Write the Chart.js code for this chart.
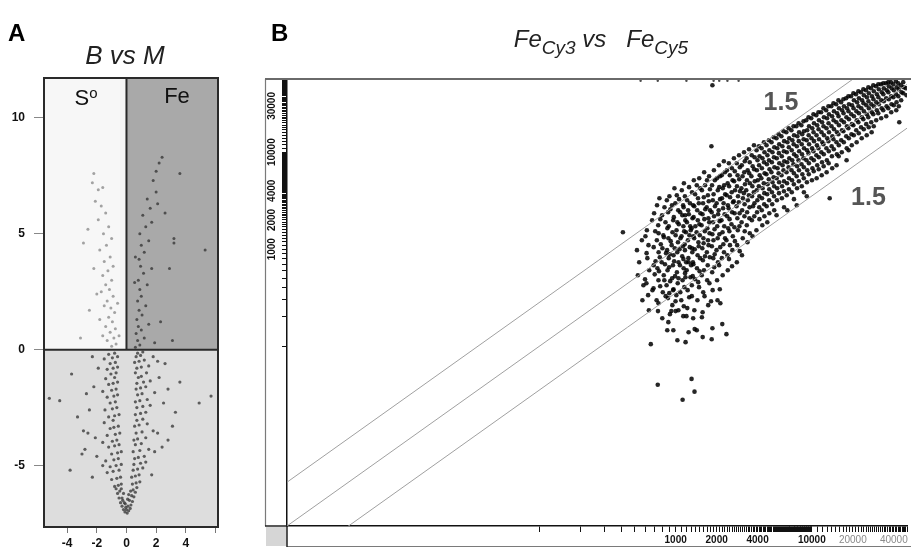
<!DOCTYPE html>
<html><head><meta charset="utf-8">
<script src="https://cdn.jsdelivr.net/npm/chart.js@4.4.0/dist/chart.umd.min.js"></script>
<style>
html,body{margin:0;padding:0;background:#fff;width:911px;height:552px;overflow:hidden;font-family:"Liberation Sans",Arial,sans-serif;color:#111}
canvas{position:absolute;top:0}
#ca{left:0}
#cb{left:255px}
.t{position:absolute;white-space:nowrap;line-height:1}
.pl{font-weight:bold;font-size:24px;color:#000}
.it{font-style:italic;color:#222;text-align:center}
.it sub{font-size:19px;vertical-align:-7px}
.q{font-size:22px;color:#111;text-align:center}
.q sup{font-size:15px;vertical-align:7px}
</style></head>
<body>
<canvas id="ca" width="255" height="552"></canvas>
<canvas id="cb" width="656" height="552"></canvas>
<div class="t pl" style="left:8px;top:21px">A</div>
<div class="t it" style="left:45px;top:42px;width:160px;font-size:26px">B vs M</div>
<div class="t q" style="left:56px;top:85px;width:60px">S<sup>o</sup></div>
<div class="t q" style="left:147px;top:85px;width:60px">Fe</div>
<div class="t pl" style="left:271px;top:21px">B</div>
<div class="t it" style="left:481px;top:27px;width:240px;font-size:24px">Fe<sub>Cy3</sub> vs&nbsp;&nbsp; Fe<sub>Cy5</sub></div>
<script>
// ---------------- Panel A : volcano plot (B vs M) ----------------
const volcanoXTicks = [-4, -2, 0, 2, 4, 6];
const volcanoXLabels = ["-4", "-2", "0", "2", "4", ""];
const volcanoYTicks = [-5, 0, 5, 10];
const volcanoYLabels = ["-5", "0", "5", "10"];

const volcanoLower = [
[-0.1,-7.0],[0.05,-7.05],[0.15,-6.95],[-0.2,-6.9],[0.25,-6.85],[-0.3,-6.75],[0.3,-6.7],[-0.05,-6.8],[0.1,-6.75],[-0.4,-6.6],[0.4,-6.55],[-0.15,-6.6],[0.2,-6.5],[-0.5,-6.4],[0.5,-6.35],[-0.3,-6.4],[0.35,-6.3],[-0.6,-6.2],[0.6,-6.15],[-0.45,-6.1],[0.45,-6.05],[-0.2,-6.2],[0.15,-6.25],[-0.7,-6.0],[0.7,-5.95],
[0.0,-6.9],[-0.08,-6.65],[0.08,-6.45],[-0.25,-6.5],[0.28,-6.1],[-0.35,-6.0],
[-0.8,-5.9],[-0.55,-5.85],[-0.35,-5.8],[0.4,-5.8],[0.65,-5.75],[0.9,-5.7],[-1.0,-5.6],[-0.65,-5.55],[-0.4,-5.5],[0.35,-5.5],[0.6,-5.45],[0.85,-5.4],[-1.3,-5.3],[-0.9,-5.25],[-0.5,-5.2],[0.45,-5.2],[0.75,-5.15],[1.1,-5.1],[-1.1,-5.05],[-0.7,-5.0],[-0.35,-4.95],[0.5,-4.95],[0.95,-4.9],[1.3,-4.85],[-3.8,-5.2],[-2.3,-5.5],[-1.6,-5.0],[1.7,-5.4],
[-1.4,-4.8],[-0.85,-4.75],[-0.55,-4.7],[0.55,-4.7],[0.8,-4.65],[1.2,-4.6],[-1.0,-4.5],[-0.6,-4.45],[-0.35,-4.4],[0.45,-4.4],[0.9,-4.35],[1.5,-4.3],[-1.2,-4.2],[-0.8,-4.15],[-0.5,-4.1],[0.6,-4.1],[1.0,-4.05],[-1.6,-4.0],[-0.95,-3.95],[-0.65,-3.9],[0.5,-3.9],[0.75,-3.85],[1.3,-3.8],[-1.3,-3.7],[-0.75,-3.65],[-0.45,-3.6],[0.65,-3.6],[1.05,-3.55],[1.8,-3.5],[-1.1,-3.4],[-0.85,-3.35],[-0.55,-3.3],[0.55,-3.3],[0.85,-3.25],[1.4,-3.2],[-1.5,-3.15],[-0.9,-3.05],[0.7,-3.05],[1.1,-3.0],
[-3.0,-4.5],[-2.8,-4.3],[-2.1,-3.8],[-2.6,-3.6],[2.4,-4.2],[2.8,-3.9],[2.1,-3.6],[-2.0,-4.6],[1.9,-4.4],[3.1,-3.3],[-2.9,-3.5],
[-1.2,-2.9],[-0.8,-2.85],[-0.5,-2.8],[0.6,-2.8],[0.95,-2.75],[1.3,-2.7],[-1.45,-2.6],[-0.95,-2.55],[-0.65,-2.5],[0.7,-2.5],[1.1,-2.45],[1.6,-2.4],[-1.1,-2.3],[-0.75,-2.25],[0.6,-2.25],[0.9,-2.2],[1.4,-2.15],[-1.3,-2.05],[-0.85,-2.0],[-0.6,-1.95],[0.75,-1.95],[1.05,-1.9],[1.9,-1.85],[-1.6,-1.8],[-1.0,-1.75],[-0.7,-1.7],[0.65,-1.7],[0.95,-1.65],[1.3,-1.6],[-1.2,-1.5],[-0.9,-1.45],[-0.6,-1.4],[0.7,-1.45],[1.15,-1.4],[1.6,-1.35],[-1.4,-1.25],[-0.8,-1.2],[0.8,-1.2],[1.0,-1.15],[-1.05,-1.05],[-0.7,-1.0],[0.6,-1.0],[1.35,-1.0],
[-5.2,-2.1],[-4.5,-2.2],[5.7,-2.0],[4.9,-2.3],[-3.7,-1.05],[-2.5,-2.6],[-2.2,-1.6],[-3.3,-2.9],[2.5,-2.3],[3.3,-2.7],[2.8,-1.7],[2.2,-1.2],[-2.7,-1.9],[3.6,-1.4],[2.6,-0.6],[-1.9,-0.8],
[-1.3,-0.85],[-0.9,-0.8],[-0.6,-0.75],[0.7,-0.8],[1.0,-0.75],[1.5,-0.7],[-1.1,-0.6],[-0.75,-0.55],[0.55,-0.55],[0.85,-0.5],[1.2,-0.45],[-1.5,-0.4],[-0.95,-0.35],[-0.6,-0.3],[0.65,-0.3],[0.95,-0.25],[1.8,-0.3],[-1.2,-0.2],[-0.8,-0.15],[0.75,-0.15],[1.1,-0.1],[-2.3,-0.3],[2.1,-0.5]
];
const volcanoSulfur = [
[-1.0,0.15],[-0.7,0.25],[-1.3,0.4],[-0.85,0.5],[-1.6,0.6],[-1.1,0.75],[-0.75,0.9],[-3.1,0.5],[-1.4,1.0],[-0.95,1.2],[-1.2,1.4],[-1.8,1.3],[-0.8,1.6],[-1.05,1.8],[-1.5,1.9],[-2.5,1.7],[-1.3,2.1],[-0.9,2.3],[-1.7,2.5],[-1.15,2.6],[-1.4,2.8],[-2.0,2.4],[-1.0,3.0],[-1.6,3.2],[-1.25,3.4],[-0.9,3.6],[-1.5,3.8],[-1.1,4.0],[-1.8,4.3],[-1.35,4.5],[-2.9,4.6],[-1.0,4.8],[-1.55,5.0],[-1.2,5.3],[-1.9,5.6],[-1.4,5.9],[-1.7,6.2],[-2.1,6.4],[-1.9,6.9],[-2.3,7.2],[-2.2,7.6],[-1.6,7.0],[-2.6,5.2],[-0.6,2.0],[-0.5,0.6],[-2.2,3.5]
];
const volcanoIron = [
[0.6,0.1],[0.9,0.2],[0.75,0.4],[1.2,0.5],[0.65,0.7],[1.0,0.85],[0.8,1.0],[1.5,1.1],[0.7,1.3],[1.05,1.5],[0.85,1.7],[1.3,1.9],[0.75,2.1],[1.0,2.3],[0.9,2.6],[1.4,2.8],[0.8,3.0],[1.15,3.3],[0.95,3.6],[1.7,3.5],[2.9,3.5],[0.85,3.9],[1.2,4.2],[1.0,4.5],[1.5,4.7],[3.2,4.8],[3.2,4.6],[5.3,4.3],[0.9,5.0],[1.3,5.3],[1.7,5.5],[1.1,5.8],[1.6,6.1],[2.1,6.3],[1.4,6.5],[2.0,6.8],[1.8,7.3],[2.0,7.7],[2.2,8.05],[2.4,8.3],[3.6,7.6],[2.6,5.9],[2.3,1.2],[1.9,0.3],[3.1,0.4],[0.55,2.9],[0.6,4.0]
];

// ---------------- Panel B : FeCy3 vs FeCy5 (log-log) ----------------
const cy3LabelValues = [1000, 2000, 4000, 10000, 20000, 40000];
const cy5LabelValues = [1000, 2000, 4000, 10000, 30000];
const rulerBands = [[100, 10000, 100], [11000, 55000, 1000]];
const foldRatios = [2.828, 1, 0.3536];
const foldLabels = ["1.5", "1.5"];

const spotsCore = [
[410,1497],[520,977],[540,734],[528,539],[565,1238],[580,425],[570,298],
[615,1570],[632,1100],[620,808],[640,607],[610,446],[628,336],[636,235],[657,105],
[672,1991],[690,684],[676,378],
[730,2842],[745,1768],[728,1238],[750,931],[735,637],[748,479],[725,298],[742,230],[739,40],
[795,2241],[812,1394],[800,1024],[790,734],[818,539],[805,360],[798,194],
[862,3200],[880,2407],[870,1646],[885,1298],[866,977],[890,808],[872,607],[858,425],[878,313],[884,177],[868,146],
[940,2842],[960,1991],[948,1497],[935,1100],[965,867],[955,684],[942,502],[958,378],[946,265],[930,230],[962,146],[1000,230],
[1020,3603],[1045,2524],[1030,1898],[1015,1570],[1040,1181],[1028,931],[1050,734],[1022,579],[1036,446],[1012,336],[1048,235],[1030,115],
[1110,4057],[1135,2842],[1120,2241],[1140,1726],[1105,1361],[1130,1074],[1118,847],[1145,637],[1125,479],[1100,298],[1138,204],[1125,28],
[1175,2241],[1190,1497],[1170,977],[1195,734],[1180,514],[1183,110],
[1215,3200],[1235,2524],[1210,1898],[1230,1238],[1240,808],[1205,607],[1225,378],[1218,247],[1200,204],[1245,139],
[1309,46],[1290,1570],[1320,1024],[1300,684],[1315,425],
[1320,3870],[1345,2842],[1330,2087],[1310,1646],[1350,1361],[1325,931],[1340,734],[1335,527],[1315,328],[1345,194],
[1376,34],[1380,150],
[1430,4568],[1460,3356],[1440,2524],[1455,1991],[1425,1497],[1470,1181],[1450,867],[1435,637],[1465,457],[1445,298],[1430,146],
[1560,4057],[1590,2980],[1575,2295],[1550,1768],[1600,1298],[1570,1024],[1585,770],[1555,539],[1595,360],[1578,224],[1560,199],[1580,124],
[1700,5144],[1725,3603],[1690,2710],[1740,2087],[1710,1646],[1730,1238],[1695,931],[1720,684],[1705,479],[1735,265],
[1831,11530],[1820,291],[1840,118],
[1850,4568],[1875,3200],[1840,2407],[1880,1898],[1860,1428],[1845,1074],[1890,808],[1855,579],[1870,378],[1862,153],
[2010,5395],[2040,4057],[2000,2980],[2050,2295],[2020,1726],[2035,1298],[1995,977],[2045,734],[2015,479],[2030,298],
[2130,277],
[2180,5793],[2220,4255],[2190,3356],[2230,2647],[2170,1991],[2210,1497],[2240,1126],[2185,808],[2215,539],[2200,169],
[2360,133],
[2380,6522],[2410,4791],[2370,3603],[2420,2842],[2390,2189],[2430,1646],[2360,1238],[2400,867],[2415,607],
[2590,6840],[2620,5144],[2580,3870],[2640,3051],[2600,2407],[2570,1810],[2630,1361],[2610,977],[2595,668],
[2810,7703],[2850,5793],[2820,4462],[2870,3519],[2800,2775],[2840,2087],[2860,1570],[2830,1100],[2815,734],
[3060,7345],[3100,5657],[3040,4255],[3120,3356],[3080,2524],[3050,1898],[3110,1298],[3070,867],
[3320,8673],[3380,6522],[3340,5144],[3300,4057],[3390,3200],[3350,2407],[3330,1768],[3370,1181],
[3620,9312],[3680,7172],[3600,5657],[3660,4462],[3640,3519],[3700,2775],[3630,1991],[3670,1361],
[3930,10490],[3990,8271],[3950,6522],[4010,5144],[3940,4057],[3980,3200],[3960,2407],[3920,1570],
[4280,11000],[4340,8673],[4300,6840],[4260,5395],[4350,4255],[4310,3356],[4290,2524],[4330,1768],
[4650,11810],[4720,9312],[4680,7522],[4640,5932],[4730,4678],[4700,3690],[4660,2775],[4710,1898],
[5060,12680],[5140,10000],[5090,7888],[5050,6220],[5150,4906],[5100,3870],[5120,2910],
[5500,13940],[5580,11000],[5530,8673],[5600,6840],[5520,5395],[5570,4255],[5540,3200],[5510,2241],
[5980,14620],[6080,11530],[6020,9095],[6100,7345],[5990,5793],[6050,4462],[6030,3356],
[6500,16080],[6620,12680],[6550,10000],[6600,7888],[6520,6220],[6580,4791],[6540,3603],[6610,2524],
[7080,16860],[7200,13300],[7120,10490],[7180,8271],[7100,6522],[7160,5144],[7130,3870],
[7700,18540],[7830,14620],[7760,11530],[7720,9095],[7800,7172],[7740,5657],[7790,4255],[7750,2842],
[8380,18990],[8500,15330],[8430,12090],[8480,9537],[8400,7522],[8520,5932],[8440,4462],
[9100,21370],[9250,16860],[9170,13300],[9220,10490],[9140,8271],[9260,6522],[9200,4906],[9180,3519],
[9900,22410],[10080,17680],[9950,13940],[10050,11000],[9920,8673],[10100,6840],[10020,5144],
[10780,24060],[10950,18990],[10830,14970],[10900,11810],[10800,9312],[10960,7345],[10850,5395],
[11700,25840],[11900,20390],[11780,16080],[11950,12680],[11750,10000],[11880,7888],[11820,5793],
[12750,27100],[12950,22410],[12820,17680],[12980,13940],[12800,11000],[12900,8271],[12850,6220],
[13530,3356],
[13900,29800],[14100,23500],[13950,18540],[14150,14620],[13980,11530],[14050,9095],[14120,6840],
[15100,31250],[15350,25230],[15150,20390],[15300,16080],[15180,12680],[15280,9537],[15200,7345],
[16400,32770],[16700,27100],[16500,21370],[16650,16860],[16450,13300],[16600,10000],
[17850,36030],[18150,28420],[17950,22950],[18100,18540],[17900,14620],[18050,11000],[18000,8271],
[19400,37790],[19750,30510],[19500,24650],[19700,19450],[19550,15330],[19650,11810],
[21100,39630],[21500,32770],[21250,26470],[21400,21370],[21200,16860],[21350,12680],
[22950,41550],[23400,34360],[23100,28420],[23300,22950],[23000,18100],[23250,13940],
[25000,43560],[25400,36900],[25150,30510],[25350,24650],[25100,19450],[25300,14970],
[27200,45680],[27650,37790],[27350,31250],[27600,25840],[27300,20390],[27500,16080],
[29600,47910],[30050,39630],[29750,32770],[30000,27100],[29700,21370],
[32200,50230],[32650,41550],[32350,34360],[32600,28420],[32300,22410],
[35000,51440],[35500,43560],[35150,36030],[35400,29800],[35200,23500],
[38100,52680],[38600,45680],[38250,37790],[38500,31250],[38300,25840],
[41400,53950],[42000,46780],[41600,39630],[41900,32770],[41700,27100],
[43880,20390],[45100,49060],[45600,41550],[45300,34360],[49000,45680],[49600,38700],
[1862,49060]
];
const spotsFill = [
[600,1361],[612,910],[596,490],
[695,2350],[708,1530],[690,1050],[712,750],[702,550],[688,395],
[760,3356],[772,2040],[750,1460],[778,1126],[765,827],[755,593],[770,415],[748,277],
[828,2710],[842,1898],[820,1330],[850,910],[835,700],[826,479],[845,328],
[900,3519],[915,2585],[890,1726],[920,1210],[905,887],[895,652],[912,468],[898,352],[908,214],
[980,4255],[995,2980],[970,2140],[1000,1394],[985,1024],[975,750],[990,527],[965,387],[998,291],
[1060,3280],[1080,2407],[1055,1810],[1085,1298],[1068,1000],[1075,684],[1050,502],[1082,360],
[1150,4791],[1170,3519],[1145,2710],[1178,1991],[1155,1530],[1165,1126],[1140,790],[1172,566],[1158,406],[1148,258],
[1255,4360],[1275,2980],[1250,2295],[1280,1726],[1262,1394],[1270,1050],[1245,734],[1285,514],[1258,320],
[1360,5144],[1390,3690],[1370,2775],[1355,2140],[1395,1726],[1368,1298],[1382,1000],[1350,700],[1388,490],[1372,235],
[1490,5395],[1515,4255],[1480,2980],[1520,2350],[1495,1810],[1505,1394],[1478,1074],[1512,808],[1500,593],[1485,406],
[1620,6220],[1645,4568],[1610,3437],[1650,2585],[1625,2040],[1638,1530],[1605,1153],[1642,847],[1615,607],[1630,328],
[1760,5657],[1785,4150],[1750,3120],[1790,2524],[1765,1898],[1775,1460],[1745,1100],[1782,827],[1770,446],
[1910,6522],[1940,5144],[1900,3690],[1945,2775],[1915,2189],[1930,1608],[1895,1238],[1935,887],[1920,652],
[2080,7345],[2115,5657],[2090,4360],[2120,3280],[2070,2524],[2105,1945],[2095,1428],[2125,1050],[2085,684],[2110,387],
[2260,8070],[2300,6220],[2270,4568],[2310,3690],[2250,2980],[2290,2295],[2275,1726],[2305,1298],[2265,931],
[2460,7703],[2500,5793],[2470,4462],[2510,3437],[2450,2647],[2490,2040],[2480,1530],[2505,1100],[2465,790],
[2680,8673],[2720,6370],[2690,5020],[2730,4057],[2670,3120],[2710,2350],[2700,1686],[2725,1210],
[2920,9312],[2960,7000],[2930,5270],[2970,3960],[2910,3051],[2950,2350],[2940,1726],[2955,954],
[3180,10000],[3220,8070],[3190,6220],[3230,4678],[3170,3780],[3210,2910],[3200,2189],[3215,1530],
[3460,10740],[3500,7888],[3470,6070],[3510,4791],[3450,3603],[3490,2710],[3480,2087],[3505,1460],
[3760,11810],[3800,8880],[3770,6680],[3810,5020],[3750,3870],[3790,2980],[3780,2189],
[4090,11530],[4130,9095],[4100,7345],[4140,5793],[4080,4462],[4120,3519],[4110,2710],[4125,2040],
[4450,12680],[4490,10000],[4460,7888],[4500,6070],[4440,4791],[4480,3780],[4470,2910],[4485,2189],
[4840,13300],[4880,10490],[4850,8271],[4890,6680],[4830,5270],[4870,4150],[4860,3200],[4875,2350],
[5250,14280],[5300,11260],[5270,8880],[5310,7000],[5240,5520],[5290,4462],[5280,3519],[5295,2524],
[5710,15330],[5760,12090],[5730,9770],[5770,7703],[5700,6070],[5750,4906],[5740,3780],
[6200,16460],[6260,12990],[6230,10240],[6270,8070],[6190,6522],[6250,5020],[6240,3960],[6255,2710],
[6760,17680],[6820,13940],[6780,11260],[6830,8673],[6750,7000],[6800,5395],[6790,4150],
[7340,18540],[7400,14970],[7360,12090],[7410,9537],[7330,7522],[7390,6070],[7380,4678],[7395,3280],
[8000,19900],[8060,16080],[8020,12990],[8070,10240],[7990,8271],[8050,6522],[8030,5020],
[8690,20880],[8760,16460],[8710,13620],[8770,11000],[8680,8673],[8740,7000],[8730,5395],[8750,3870],
[9460,22950],[9540,18540],[9480,14970],[9550,12090],[9450,9770],[9520,7703],[9500,5932],
[10280,24650],[10370,19900],[10300,16080],[10380,12990],[10270,10240],[10350,8271],[10330,6370],
[11190,25840],[11290,21370],[11210,17270],[11300,13620],[11180,11000],[11260,8880],[11240,6680],
[12170,28420],[12270,22950],[12190,18540],[12280,14970],[12160,12090],[12250,9537],[12220,7172],
[13240,29800],[13360,24650],[13270,19900],[13370,16080],[13230,12990],[13330,10240],[13300,7703],
[14420,31990],[14540,26470],[14450,21370],[14550,17270],[14410,13620],[14500,10740],
[15680,34360],[15820,28420],[15710,23500],[15830,18990],[15670,15330],[15790,11810],[15750,9095],
[17060,35190],[17220,29800],[17100,25230],[17230,20390],[17050,16460],[17180,12680],
[18550,37790],[18730,31250],[18590,26470],[18740,21880],[18540,17680],[18700,13940],[18640,10490],
[20200,40580],[20380,34360],[20240,28420],[20390,23500],[20190,18990],[20340,14970],
[21970,42550],[22170,36030],[22010,29800],[22180,25230],[21960,20390],[22120,15700],
[23900,44620],[24120,38700],[23950,31990],[24130,26470],[23890,21880],[24070,17270],
[26000,46780],[26240,40580],[26050,33560],[26250,28420],[25990,22950],[26180,18100],
[28280,49060],[28540,42550],[28330,35190],[28550,29800],[28270,24650],[28480,18540],
[30770,50230],[31050,44620],[30820,36900],[31060,31250],[30760,25230],
[33470,51440],[33780,45680],[33520,39630],[33790,33560],[33460,27100],
[36420,52680],[36750,47910],[36470,41550],[36760,35190],[36410,28420],
[39620,50230],[39990,43560],[39680,36900],[40000,30510],
[43100,51440],[43500,44620],[43170,37790],[43520,29800],
[46900,52680],[47300,46780],[46950,40580]
];
const spotsTopEdge = [[553,54500],[739,54500],[1200,54500],[1900,54500],[2090,54500],[2400,54500],[2900,54500]];
const foldLabelAnchors = [[5938, 32000], [26060, 3357]];

// ---------------- helpers ----------------
const FONT = "'Liberation Sans', Arial, sans-serif";
const toXY = arr => arr.map(([x, y]) => ({x, y}));
function rulerValues(limit) {
  const out = [];
  for (const [a, b, s] of rulerBands) for (let v = a; v <= b; v += s) if (v <= limit) out.push(v);
  return out;
}

// ---------------- Chart A ----------------
const volcanoFrame = {
  id: 'volcanoFrame',
  beforeDatasetsDraw(chart) {
    const {ctx, chartArea: a, scales: {x, y}} = chart;
    const x0 = x.getPixelForValue(0), y0 = y.getPixelForValue(0);
    ctx.save();
    ctx.fillStyle = '#dddddd'; ctx.fillRect(a.left, y0, a.right - a.left, a.bottom - y0);
    ctx.fillStyle = '#f7f7f7'; ctx.fillRect(a.left, a.top, x0 - a.left, y0 - a.top);
    ctx.fillStyle = '#a9a9a9'; ctx.fillRect(x0, a.top, a.right - x0, y0 - a.top);
    ctx.restore();
  },
  afterDatasetsDraw(chart) {
    const {ctx, chartArea: a, scales: {x, y}} = chart;
    const x0 = x.getPixelForValue(0), y0 = y.getPixelForValue(0);
    ctx.save();
    ctx.strokeStyle = '#2a2a2a'; ctx.lineWidth = 2;
    ctx.strokeRect(a.left, a.top, a.right - a.left, a.bottom - a.top);
    ctx.beginPath();
    ctx.moveTo(x0, a.top); ctx.lineTo(x0, y0);
    ctx.moveTo(a.left, y0); ctx.lineTo(a.right, y0);
    ctx.stroke();
    ctx.restore();
  }
};

new Chart(document.getElementById('ca'), {
  type: 'scatter',
  data: { datasets: [
    { data: toXY(volcanoIron), pointRadius: 1.5, backgroundColor: 'rgba(55,55,55,0.8)', borderWidth: 0 },
    { data: toXY(volcanoSulfur), pointRadius: 1.5, backgroundColor: 'rgba(140,140,140,0.8)', borderWidth: 0 },
    { data: toXY(volcanoLower), pointRadius: 1.6, backgroundColor: 'rgba(55,55,55,0.78)', borderWidth: 0 }
  ]},
  options: {
    responsive: false, animation: false, events: [],
    layout: { padding: { top: 78, right: 37, left: 0, bottom: 0 } },
    plugins: { legend: { display: false }, tooltip: { enabled: false } },
    scales: {
      x: {
        type: 'linear', min: -5.56, max: 6.17,
        afterBuildTicks: s => { s.ticks = volcanoXTicks.map(v => ({value: v})); },
        afterFit: s => { s.height = 25; },
        border: { display: false },
        grid: { drawOnChartArea: false, drawTicks: true, tickLength: 6, color: '#777', tickColor: '#777' },
        ticks: { autoSkip: false, maxRotation: 0, minRotation: 0, padding: 3, color: '#111',
          font: { family: FONT, size: 12, weight: 'bold' },
          callback: (v) => volcanoXLabels[volcanoXTicks.indexOf(v)] }
      },
      y: {
        type: 'linear', min: -7.65, max: 11.72,
        afterBuildTicks: s => { s.ticks = volcanoYTicks.map(v => ({value: v})); },
        afterFit: s => { s.width = 44; },
        border: { display: false },
        grid: { drawOnChartArea: false, drawTicks: true, tickLength: 10, color: '#888', tickColor: '#888' },
        ticks: { autoSkip: false, padding: 9, color: '#111',
          font: { family: FONT, size: 12, weight: 'bold' },
          callback: (v) => volcanoYLabels[volcanoYTicks.indexOf(v)] }
      }
    }
  },
  plugins: [volcanoFrame]
});

// ---------------- Chart B ----------------
const X_MIN = 1.4, X_MAX = 50000, Y_MIN = 1.4, Y_MAX = 55500;

const scatterFrame = {
  id: 'scatterFrame',
  afterDraw(chart) {
    const {ctx, chartArea: a, scales: {x, y}} = chart;
    ctx.save();
    ctx.fillStyle = '#d6d6d6'; ctx.fillRect(11, a.bottom + 1, a.left - 11, 545 - a.bottom);
    ctx.strokeStyle = '#7a7a7a'; ctx.lineWidth = 1.2;
    ctx.beginPath();
    ctx.moveTo(10.5, a.top - 1); ctx.lineTo(10.5, a.bottom);
    ctx.moveTo(a.left, 546.5); ctx.lineTo(656, 546.5);
    ctx.stroke();
    ctx.strokeStyle = '#6a6a6a'; ctx.lineWidth = 2;
    ctx.beginPath(); ctx.moveTo(10, a.top - 1); ctx.lineTo(656, a.top - 1); ctx.stroke();
    ctx.strokeStyle = '#222'; ctx.lineWidth = 1.5;
    ctx.beginPath();
    ctx.moveTo(10, a.bottom); ctx.lineTo(a.left, a.bottom);
    ctx.moveTo(a.left, a.bottom); ctx.lineTo(a.left, 547);
    ctx.stroke();
    ctx.fillStyle = '#555';
    ctx.font = 'bold 25px ' + FONT;
    ctx.textAlign = 'center'; ctx.textBaseline = 'middle';
    foldLabelAnchors.forEach(([vx, vy], i) => {
      ctx.fillText(foldLabels[i], x.getPixelForValue(vx), y.getPixelForValue(vy));
    });
    ctx.restore();
  }
};

const lineSets = foldRatios.map(r => ({
  type: 'scatter', showLine: true, pointRadius: 0, borderColor: '#a0a0a0', borderWidth: 1,
  data: [{x: 1, y: r}, {x: 60000, y: 60000 * r}]
}));

new Chart(document.getElementById('cb'), {
  type: 'scatter',
  data: { datasets: [
    ...lineSets,
    { data: toXY(spotsCore), pointRadius: 2.3, backgroundColor: 'rgba(0,0,0,0.85)', borderWidth: 0 },
    { data: toXY(spotsFill), pointRadius: 2.3, backgroundColor: 'rgba(0,0,0,0.85)', borderWidth: 0 },
    { data: toXY(spotsTopEdge), pointRadius: 1.2, backgroundColor: 'rgba(0,0,0,0.7)', borderWidth: 0 }
  ]},
  options: {
    responsive: false, animation: false, events: [],
    layout: { padding: { top: 80, right: 0, left: 0, bottom: 0 } },
    plugins: { legend: { display: false }, tooltip: { enabled: false } },
    scales: {
      x: {
        type: 'logarithmic', min: X_MIN, max: X_MAX,
        afterBuildTicks: s => { s.ticks = rulerValues(X_MAX).map(v => ({value: v})); },
        afterFit: s => { s.height = 26; },
        border: { display: true, color: '#111', width: 1.5 },
        grid: { drawOnChartArea: false, drawTicks: true, tickLength: 6, color: '#111', tickColor: '#111', lineWidth: 1 },
        ticks: { autoSkip: false, maxRotation: 0, minRotation: 0, padding: 2,
          color: ctx => (ctx.tick && ctx.tick.value >= 20000) ? '#8a8a8a' : '#111',
          font: ctx => ({ family: FONT, size: 10, weight: (ctx.tick && ctx.tick.value >= 20000) ? 'normal' : 'bold' }),
          callback: v => cy3LabelValues.includes(v) ? String(v) : '' }
      },
      y: {
        type: 'logarithmic', min: Y_MIN, max: Y_MAX,
        afterBuildTicks: s => { s.ticks = rulerValues(Y_MAX).map(v => ({value: v})); },
        afterFit: s => { s.width = 32; },
        border: { display: true, color: '#111', width: 1.5 },
        grid: { drawOnChartArea: false, drawTicks: true, tickLength: 5, color: '#111', tickColor: '#111', lineWidth: 1 },
        ticks: { autoSkip: false, minRotation: 90, maxRotation: 90, crossAlign: 'center', padding: -4, color: '#111',
          font: { family: FONT, size: 10, weight: 'bold' },
          callback: v => cy5LabelValues.includes(v) ? String(v) : '' }
      }
    }
  },
  plugins: [scatterFrame]
});
</script>
</body></html>
